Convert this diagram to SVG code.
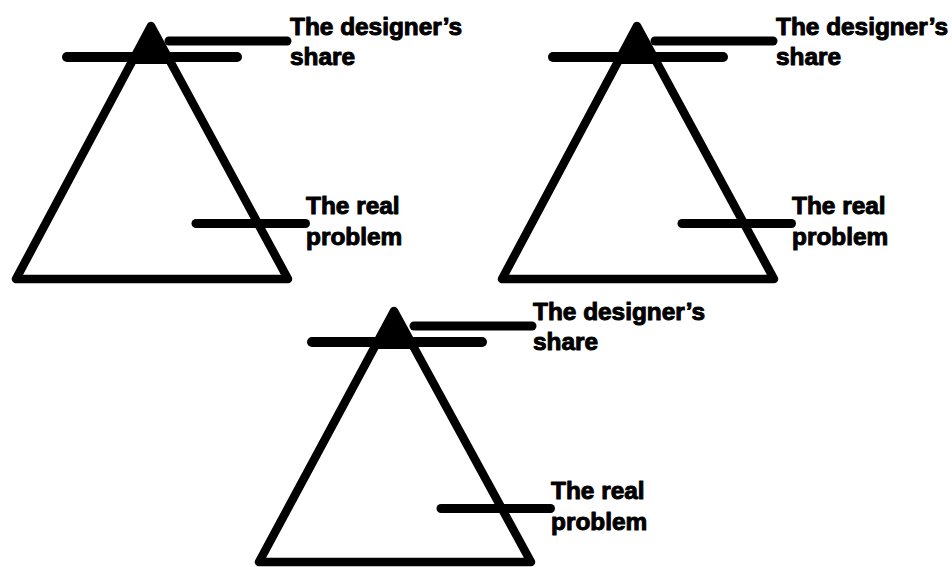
<svg xmlns="http://www.w3.org/2000/svg" width="952" height="567" viewBox="0 0 952 567">
<style>
.tri{fill:none;stroke:#000;stroke-width:8.5;stroke-linejoin:round}
.tip{fill:#000;stroke:none}
.bar{stroke:#000;stroke-width:10;stroke-linecap:round}
.lead{stroke:#000;stroke-width:9;stroke-linecap:round}
.lbl{font-family:"Liberation Sans",Arial,sans-serif;font-weight:bold;font-size:24.4px;fill:#000;stroke:#000;stroke-width:1;stroke-linejoin:round}
</style>
<rect width="952" height="567" fill="#fff"/>
<g id="pyramid1">
<polygon class="tri" points="151,26 16,279 288,279"/>
<polygon class="tip" points="151,26 130.7,64 171.6,64"/>
</g>
<g id="pyramid2">
<polygon class="tri" points="637,26 502,279 774,279"/>
<polygon class="tip" points="637,26 616.7,64 657.6,64"/>
</g>
<g id="pyramid3">
<polygon class="tri" points="394,311 259,562 531,562"/>
<polygon class="tip" points="394,311 373.6,349 414.7,349"/>
</g>
<g id="connectors">
<line class="bar" x1="67" y1="57" x2="237" y2="57"/>
<line class="lead" x1="169" y1="41" x2="287" y2="41"/>
<line class="lead" x1="196" y1="223.5" x2="305.5" y2="223.5"/>
<line class="bar" x1="553" y1="57" x2="723" y2="57"/>
<line class="lead" x1="655" y1="41" x2="773" y2="41"/>
<line class="lead" x1="682" y1="223.5" x2="791.5" y2="223.5"/>
<line class="bar" x1="312" y1="342" x2="482" y2="342"/>
<line class="lead" x1="414" y1="326" x2="532" y2="326"/>
<line class="lead" x1="441" y1="508.5" x2="550.5" y2="508.5"/>
</g>
<g id="label-share1"><text class="lbl" x="290" y="35">The designer’s</text><text class="lbl" x="290" y="65">share</text></g>
<g id="label-real1"><text class="lbl" x="306" y="214">The real</text><text class="lbl" x="306" y="245">problem</text></g>
<g id="label-share2"><text class="lbl" x="776" y="35">The designer’s</text><text class="lbl" x="776" y="65">share</text></g>
<g id="label-real2"><text class="lbl" x="792" y="214">The real</text><text class="lbl" x="792" y="245">problem</text></g>
<g id="label-share3"><text class="lbl" x="533" y="320">The designer’s</text><text class="lbl" x="533" y="350">share</text></g>
<g id="label-real3"><text class="lbl" x="551" y="499">The real</text><text class="lbl" x="551" y="530">problem</text></g>
</svg>
